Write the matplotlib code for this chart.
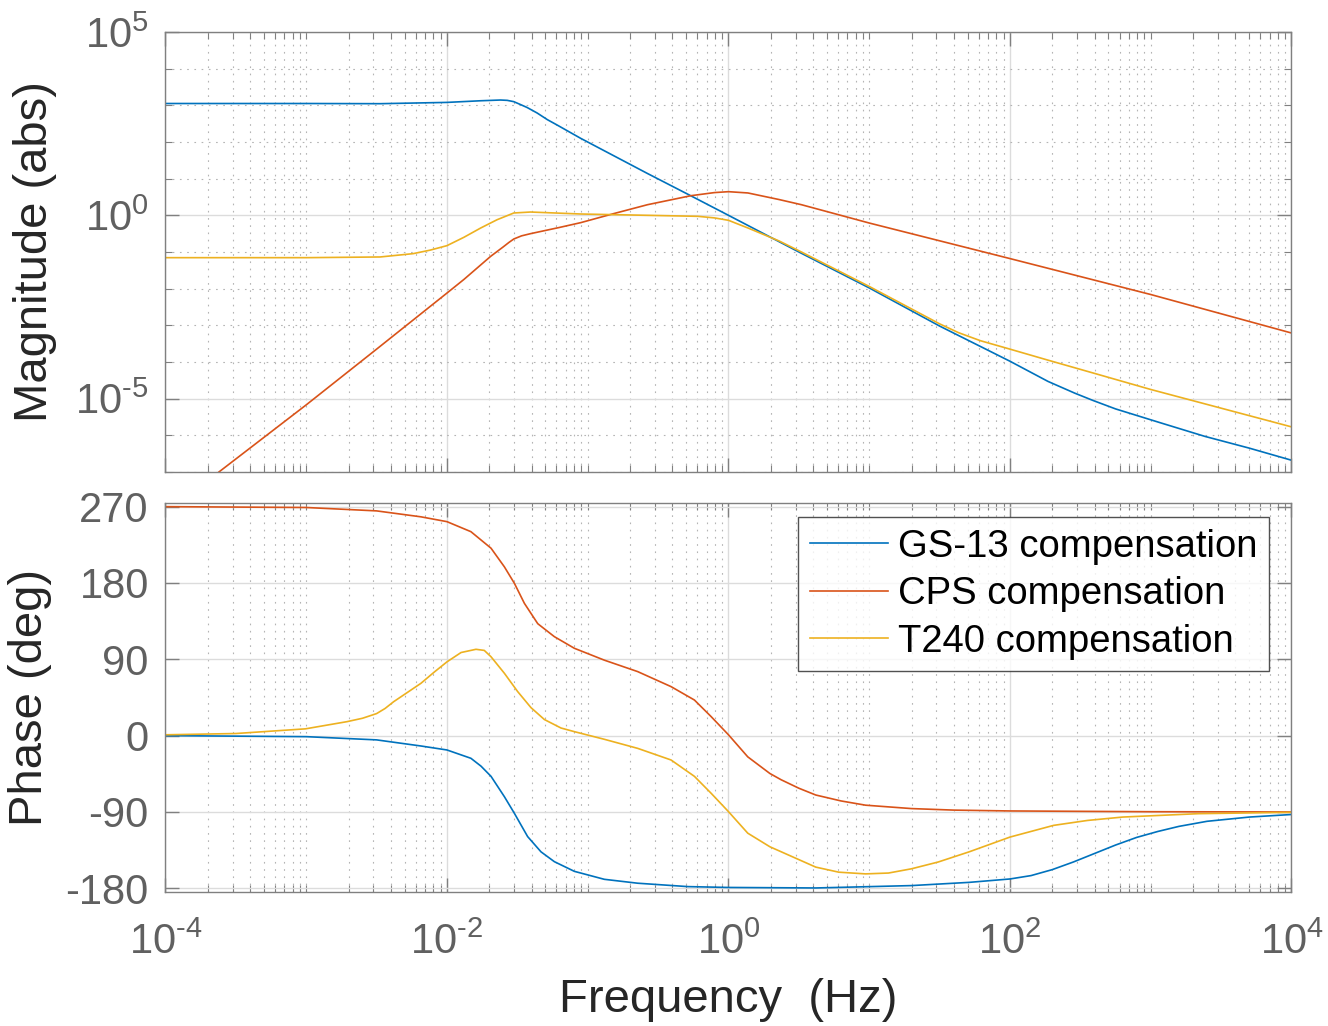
#!/usr/bin/env python3
"""
Bode plot of the GS-13 / CPS / T240 compensation filters
"""

import matplotlib
matplotlib.use('Agg')
import matplotlib.pyplot as plt
from matplotlib.ticker import FixedLocator, NullFormatter
import numpy as np

plt.rcParams['font.family'] = ['Liberation Sans', 'DejaVu Sans']
plt.rcParams['mathtext.fontset'] = 'custom'
plt.rcParams['mathtext.rm'] = 'Liberation Sans'
plt.rcParams['mathtext.it'] = 'Liberation Sans:italic'

labels = ['GS-13 compensation', 'CPS compensation', 'T240 compensation']
colors = ['#0072BD', '#D95319', '#EDB120']

# magnitude as (log10 f [Hz], log10 |H|)
gs13_mag_logf = [-4.0, -3.0, -2.475, -2.0, -1.76, -1.62, -1.572, -1.525, -1.477,
                 -1.43, -1.359, -1.287, -1.216, -1.05, -0.575, -0.266, 0.0, 0.5,
                 1.0, 1.5, 2.0, 2.27, 2.46, 2.59, 2.75, 2.91, 3.07, 3.385, 3.7, 4.0]
gs13_mag_log = [3.05, 3.05, 3.045, 3.08, 3.125, 3.145, 3.136, 3.10, 3.02,
                2.94, 2.79, 2.61, 2.46, 2.1, 1.14, 0.53, 0.0, -1.0,
                -1.98, -3.02, -3.98, -4.53, -4.85, -5.05, -5.28, -5.47, -5.66, -6.03,
                -6.35, -6.68]

cps_mag_logf = [-3.62, -3.0, -2.5, -2.0, -1.88, -1.69, -1.6, -1.56, -1.525, -1.47,
                -1.406, -1.2, -1.05, -0.812, -0.575, -0.266, -0.1, 0.0, 0.138, 0.36,
                0.518, 1.0, 2.0, 3.0, 4.0]
cps_mag_log = [-7.0, -5.17, -3.65, -2.12, -1.75, -1.12, -0.86, -0.74, -0.645, -0.56,
               -0.5, -0.33, -0.2, 0.05, 0.29, 0.536, 0.62, 0.645, 0.61, 0.43,
               0.29, -0.21, -1.18, -2.16, -3.21]

t240_mag_logf = [-4.0, -3.0, -2.475, -2.24, -2.12, -2.0, -1.88, -1.76, -1.644,
                 -1.525, -1.406, -1.05, -0.575, -0.218, -0.1, 0.0, 0.138, 0.36,
                 0.518, 1.0, 1.5, 1.634, 1.79, 2.0, 2.27, 2.59, 3.0, 4.0]
t240_mag_log = [-1.155, -1.155, -1.136, -1.045, -0.95, -0.827, -0.6, -0.345, -0.12,
                0.064, 0.09, 0.036, 0.0, -0.027, -0.07, -0.136, -0.345, -0.70,
                -1.0, -1.94, -2.96, -3.20, -3.42, -3.65, -3.95, -4.3, -4.75, -5.77]

# phase as (log10 f [Hz], degrees)
gs13_ph_logf = [-4.0, -3.0, -2.5, -2.185, -2.0, -1.83, -1.758, -1.687, -1.592,
                -1.521, -1.427, -1.332, -1.237, -1.095, -0.882, -0.645, -0.289,
                0.0, 0.62, 1.3, 1.71, 2.0, 2.15, 2.3, 2.45, 2.6, 2.75, 2.9, 3.05,
                3.2, 3.4, 3.7, 4.0]
gs13_ph = [0, -1.2, -5, -12.2, -16.9, -26.7, -36, -48, -72,
           -91.6, -119, -137, -148.6, -160, -169.4, -174, -178,
           -179, -179.6, -176.8, -173, -169, -165, -158, -149, -139, -129, -120,
           -113, -107, -101, -96, -93]

cps_ph_logf = [-4.0, -3.0, -2.5, -2.185, -2.0, -1.83, -1.687, -1.592, -1.521,
               -1.45, -1.355, -1.237, -1.095, -0.882, -0.645, -0.408, -0.242,
               -0.123, 0.0, 0.137, 0.294, 0.374, 0.5, 0.62, 0.8, 0.974, 1.3, 1.6,
               2.0, 3.0, 4.0]
cps_ph = [270, 269, 265, 258, 252.3, 240.5, 221, 199, 179.6,
          156, 132, 116.7, 103, 89, 75.5, 57.8, 42,
          22.4, 1, -25, -44.6, -52, -62, -70, -77, -82, -86, -87.8,
          -88.8, -89.7, -90]

t240_ph_logf = [-4.0, -3.5, -3.006, -2.71, -2.6, -2.5, -2.44, -2.379, -2.185,
                -2.09, -2.0, -1.9, -1.794, -1.735, -1.687, -1.592, -1.498, -1.403,
                -1.308, -1.19, -1.095, -0.882, -0.645, -0.408, -0.242, -0.123, 0.0,
                0.137, 0.294, 0.484, 0.62, 0.784, 0.974, 1.137, 1.3, 1.49, 1.71,
                2.0, 2.31, 2.55, 2.8, 3.34, 4.0]
t240_ph = [1, 2.5, 8, 16.5, 20.5, 26, 32, 40, 61.7,
           75, 87, 98, 101.8, 100.5, 93, 73.5, 52, 33,
           19, 9, 4.7, -4.3, -15, -28.7, -48, -68, -89.6,
           -115, -131, -145, -155, -161, -163, -162, -157, -149, -137,
           -119.6, -105.8, -100, -96, -92, -90.4]

mag_series = [(gs13_mag_logf, gs13_mag_log), (cps_mag_logf, cps_mag_log),
              (t240_mag_logf, t240_mag_log)]
ph_series = [(gs13_ph_logf, gs13_ph), (cps_ph_logf, cps_ph), (t240_ph_logf, t240_ph)]

x_major = [1e-4, 1e-2, 1e0, 1e2, 1e4]
x_minor = [m * 10.0 ** k for k in range(-4, 4) for m in range(1, 10)]
mag_major = [1e-5, 1e0, 1e5]
mag_minor = [10.0 ** k for k in range(-7, 6)]
ph_major = [-180, -90, 0, 90, 180, 270]

TICK_COLOR = '#606060'
SPINE_COLOR = '#808080'
LABEL_COLOR = '#262626'


def style_axes(ax):
    for sp in ax.spines.values():
        sp.set_color(SPINE_COLOR)
        sp.set_linewidth(1.0)
    ax.set_xscale('log')
    ax.set_xlim(1e-4, 1e4)
    ax.xaxis.set_major_locator(FixedLocator(x_major))
    ax.xaxis.set_minor_locator(FixedLocator(x_minor))
    ax.xaxis.set_minor_formatter(NullFormatter())
    ax.tick_params(which='both', direction='in', top=True, right=True,
                   color=SPINE_COLOR, labelcolor=TICK_COLOR, labelsize=30)
    ax.tick_params(which='major', length=10, width=1.0)
    ax.tick_params(which='minor', length=5, width=0.8)
    ax.tick_params(axis='y', pad=12)
    ax.grid(True, which='major', color='#dcdcdc', linewidth=1.0, linestyle='-')
    ax.grid(True, which='minor', axis='x', color='#b4b4b4', linewidth=0.8,
            linestyle=(0, (1.5, 5)))
    ax.set_axisbelow(True)


def exp_label(v):
    e = int(round(np.log10(v)))
    sign = r'\text{-}' if e < 0 else ''
    return r'$\mathregular{10^{%s%d}}$' % (sign, abs(e))


fig = plt.figure(figsize=(13.28, 10.26), dpi=100)
ax1 = fig.add_axes([0.1246, 0.5400, 0.8479, 0.4288])
ax2 = fig.add_axes([0.1246, 0.1309, 0.8479, 0.3786])

# magnitude
for (lf, lm), c in zip(mag_series, colors):
    ax1.plot(np.power(10.0, lf), np.power(10.0, lm), color=c, linewidth=1.2)
style_axes(ax1)
ax1.set_yscale('log')
ax1.set_ylim(1e-7, 1e5)
ax1.yaxis.set_major_locator(FixedLocator(mag_major))
ax1.yaxis.set_minor_locator(FixedLocator(mag_minor))
ax1.yaxis.set_minor_formatter(NullFormatter())
ax1.set_yticklabels([exp_label(v) for v in mag_major])
ax1.grid(True, which='minor', axis='y', color='#b4b4b4', linewidth=0.8,
         linestyle=(0, (1.5, 5)))
ax1.set_xticklabels([])
ax1.set_ylabel('Magnitude (abs)', fontsize=34, color=LABEL_COLOR)
ax1.yaxis.label.set_va('center')
ax1.yaxis.set_label_coords(-0.1156, 0.5)

# phase
for (lf, ph), c, lab in zip(ph_series, colors, labels):
    ax2.plot(np.power(10.0, lf), ph, color=c, linewidth=1.2, label=lab)
style_axes(ax2)
ax2.set_ylim(-184, 274)
ax2.yaxis.set_major_locator(FixedLocator(ph_major))
ax2.set_yticklabels([str(v) for v in ph_major])
ax2.set_xticklabels([exp_label(v) for v in x_major])
ax2.tick_params(axis='x', pad=22)
ax2.set_ylabel('Phase (deg)', fontsize=34, color=LABEL_COLOR)
ax2.yaxis.label.set_va('center')
ax2.yaxis.set_label_coords(-0.12, 0.5)
ax2.set_xlabel('Frequency  (Hz)', fontsize=34, color=LABEL_COLOR)
ax2.xaxis.label.set_va('center')
ax2.xaxis.set_label_coords(0.5, -0.28)

leg = ax2.legend(loc='upper right', bbox_to_anchor=(0.9804, 0.9638),
                 borderaxespad=0, fontsize=27.5, frameon=True, fancybox=False,
                 handlelength=2.05, handletextpad=0.27, labelspacing=0.3,
                 borderpad=0.3)
leg.get_frame().set_edgecolor('#262626')
leg.get_frame().set_linewidth(1.0)
for line in leg.get_lines():
    line.set_linewidth(1.2)

fig.savefig('out.png', dpi=100)
